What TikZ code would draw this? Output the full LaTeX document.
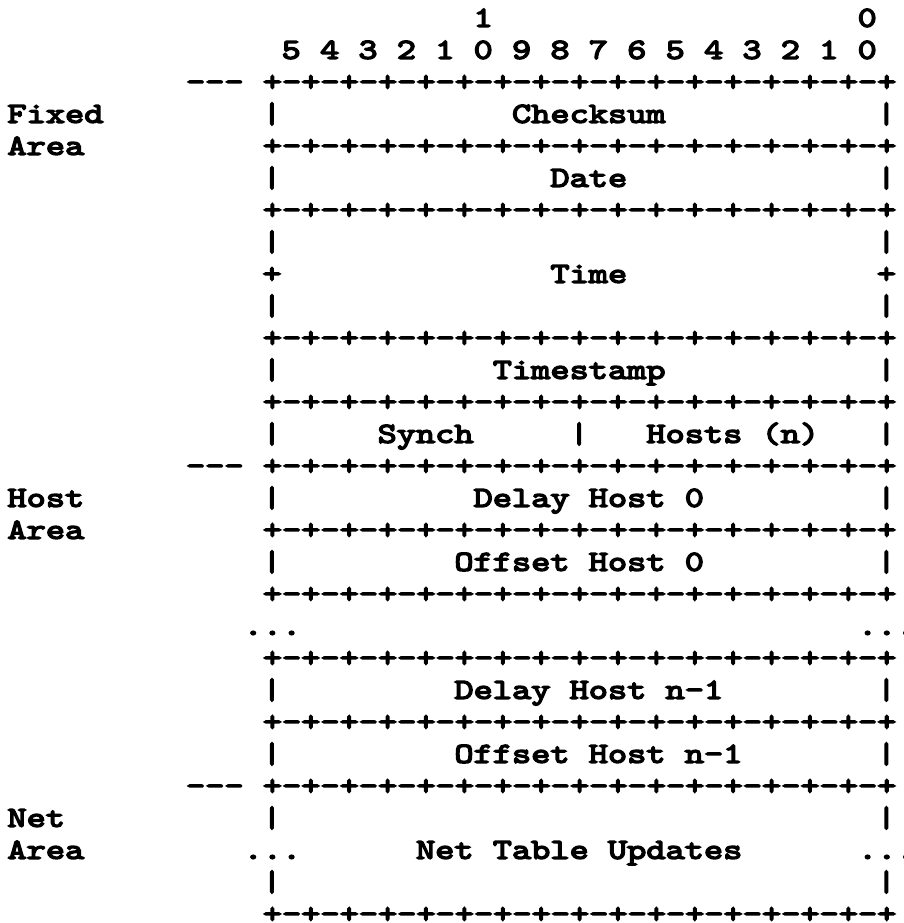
\documentclass[tikz,border=0pt]{standalone}
\usepackage{fontspec}
\setmonofont{lmmono10-regular.otf}[FakeStretch=1.261, FakeBold=5]
\newcommand{\sepline}{+-+-+-+-+-+-+-+-+-+-+-+-+-+-+-+-+}

\begin{document}
\begin{tikzpicture}[x=9.6pt, y=-16pt]
	\tikzstyle{txt}=[inner sep=0pt, anchor=base west, yshift=-4.4pt, font=\ttfamily\fontsize{14.5}{16}\selectfont]
	\tikzstyle{ctr}=[txt, anchor=base]
	% page with the margins of the scan
	\path[fill=white, use as bounding box] (-1.1667,-0.5625) rectangle (45.865,28.281);
	% bit numbers
	\node[ctr] (ten) at (24,0) {1};
	\node[ctr] (zero) at (44,0) {0};
	\foreach \d [count=\k from 0] in {5,4,3,2,1,0,9,8,7,6,5,4,3,2,1,0}
		\node[ctr] (bit\k) at (14+2*\k,1) {\d};
	% separator rows and side bars
	\foreach \r in {2,4,6,10,12,14,16,18,20,22,24,28}
		\node[txt] (sep\r) at (12.5,\r) {\sepline};
	\foreach \r in {3,5,7,9,11,13,15,17,21,23,25,27} {
		\node[ctr] (lbar\r) at (13,\r) {|};
		\node[ctr] (rbar\r) at (45,\r) {|};
	}
	\node[ctr] (lplus) at (13,8) {+};
	\node[ctr] (rplus) at (45,8) {+};
	\node[ctr] (midbar) at (29,13) {|};
	% area markers
	\foreach \r in {2,14,24}
		\node[txt] (mark\r) at (8.5,\r) {---};
	\node[txt] (fixed) at (-0.8,3) {Fixed};
	\node[txt] (fixedarea) at (-0.8,4) {Area};
	\node[txt] (host) at (-0.8,15) {Host};
	\node[txt] (hostarea) at (-0.8,16) {Area};
	\node[txt] (net) at (-0.8,25) {Net};
	\node[txt] (netarea) at (-0.8,26) {Area};
	% fields
	\node[ctr] (checksum) at (29.5,3) {Checksum};
	\node[ctr] (date) at (29.5,5) {Date};
	\node[ctr] (time) at (29.5,8) {Time};
	\node[ctr] (timestamp) at (29,11) {Timestamp};
	\node[ctr] (synch) at (21,13) {Synch};
	\node[ctr] (hosts) at (37,13) {Hosts (n)};
	\node[ctr] (delay0) at (29.5,15) {Delay Host 0};
	\node[ctr] (offset0) at (29,17) {Offset Host 0};
	\node[txt] (ldots) at (11.5,19) {...};
	\node[txt] (rdots) at (43.5,19) {...};
	\node[ctr] (delayn) at (29.5,21) {Delay Host n-1};
	\node[ctr] (offsetn) at (30,23) {Offset Host n-1};
	\node[txt] (netldots) at (11.5,26) {...};
	\node[ctr] (updates) at (29,26) {Net Table Updates};
	\node[txt] (netrdots) at (43.5,26) {...};
\end{tikzpicture}
\end{document}
